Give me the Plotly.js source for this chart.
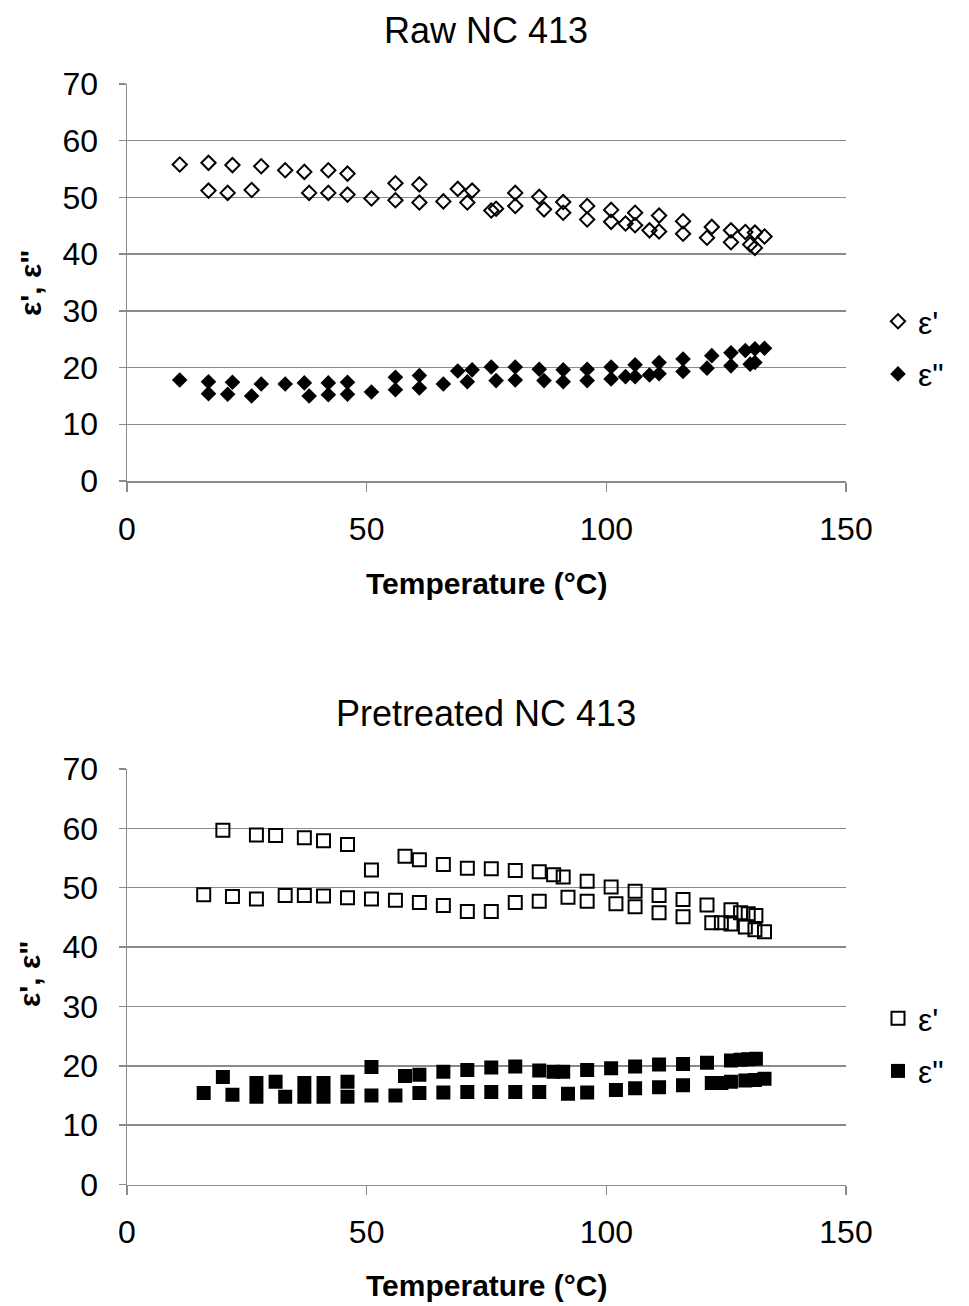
<!DOCTYPE html>
<html>
<head>
<meta charset="utf-8">
<script src="https://cdn.plot.ly/plotly-3.0.1.min.js"></script>
<style>html,body{margin:0;padding:0;background:#fff;}#chart{width:969px;height:1306px;}</style>
</head>
<body>
<div id="chart"></div>
<script>
// ---------- Data: Raw NC 413 ----------
const rawT1 = [11,17,17,22,21,28,26,33,37,38,42,42,46,46,51,56,56,61,61,66,69,72,71,76,77,81,81,86,87,91,91,96,96,101,101,104,106,106,109,111,111,116,116,121,122,126,126,129,130,131,131,133];
const rawEps1 = [55.8,56.1,51.2,55.7,50.8,55.5,51.3,54.8,54.5,50.8,54.8,50.8,54.2,50.5,49.8,52.5,49.5,52.3,49.1,49.3,51.5,51.2,49.1,47.7,48.0,50.8,48.5,50.1,47.9,49.2,47.3,48.5,46.1,47.8,45.7,45.4,47.3,45.1,44.2,46.8,44.0,45.8,43.6,42.9,44.8,44.2,42.1,43.9,41.7,43.8,41.1,43.1];
const rawT2 = [11,17,17,22,21,26,28,33,37,38,42,42,46,46,51,56,56,61,61,66,69,71,72,76,77,81,81,86,87,91,91,96,96,101,101,104,106,106,109,111,111,116,116,121,122,126,126,129,130,131,131,133];
const rawEps2 = [17.8,17.5,15.4,17.4,15.3,15.0,17.1,17.1,17.3,15.0,17.3,15.2,17.4,15.3,15.7,18.3,16.1,18.6,16.4,17.1,19.4,17.5,19.6,20.1,17.7,20.1,17.8,19.7,17.7,19.6,17.5,19.7,17.7,20.1,18.0,18.4,20.5,18.4,18.7,20.9,18.9,21.5,19.3,19.9,22.1,22.6,20.3,23.0,20.6,23.3,20.9,23.4];

// ---------- Data: Pretreated NC 413 ----------
const preT1 = [20,27,31,37,41,46,51,58,61,66,71, 16,22,27,33,37,41,46,51,56,61,66,71, 76,81,86,89,91,96,101,106,111,116,121,126,128,129.6,131.2, 76,81,86,92,96,102,106,111,116,122,124,126,129,131,133];
const preEps1 = [59.7,58.9,58.8,58.4,57.9,57.3,53.0,55.3,54.7,53.9,53.3, 48.8,48.5,48.1,48.7,48.7,48.6,48.3,48.1,47.9,47.5,47.0,46.0, 53.2,52.9,52.7,52.2,51.8,51.1,50.1,49.4,48.7,48.0,47.1,46.3,45.8,45.6,45.3, 46.0,47.5,47.7,48.4,47.7,47.3,46.8,45.8,45.1,44.1,44.1,43.9,43.4,42.9,42.6];
const preT2 = [16,20,22,27,27,31,33,37,37,41,41,46,46,51,51,56,58,61,61,66,66,71,71, 76,76,81,81,86,86,89,91,92,96,96,101,102,106,106,111,111,116,116,121, 126,128,129.6,131.2, 122,124,126,129,131,133];
const preEps2 = [15.4,18.1,15.1,17.1,14.8,17.3,14.8,17.1,14.8,17.1,14.8,17.3,14.8,19.8,15.0,15.0,18.3,18.5,15.4,19.0,15.5,19.3,15.6, 19.7,15.6,19.9,15.6,19.2,15.6,19.0,19.0,15.3,19.3,15.5,19.6,15.9,19.9,16.2,20.2,16.4,20.3,16.7,20.5, 20.9,21.0,21.1,21.2, 17.1,17.1,17.3,17.5,17.6,17.8];

// ---------- Labels ----------
const titles = ["Raw NC 413", "Pretreated NC 413"];
const xTitle = "Temperature (°C)";
const yTitle = "ε', ε\"";
const seriesNames = ["ε'", "ε\""];

const W = 969, H = 1306;
const px = v => v / W;
const py = v => 1 - v / H;
const FONT = "Liberation Sans, Arial, sans-serif";
const GRID = "#8a8a8a";

const traces = [
  {x: rawT1, y: rawEps1, xaxis: 'x', yaxis: 'y', name: seriesNames[0], legend: 'legend', legendgroup: 'a',
   mode: 'markers', type: 'scatter', marker: {symbol: 'diamond-open', size: 11, color: '#000', line: {width: 2, color: '#000'}}},
  {x: rawT2, y: rawEps2, xaxis: 'x', yaxis: 'y', name: seriesNames[1], legend: 'legend', legendgroup: 'b',
   mode: 'markers', type: 'scatter', marker: {symbol: 'diamond', size: 12, color: '#000', line: {width: 0}}},
  {x: preT1, y: preEps1, xaxis: 'x2', yaxis: 'y2', name: seriesNames[0], legend: 'legend2', legendgroup: 'c',
   mode: 'markers', type: 'scatter', marker: {symbol: 'square-open', size: 13, color: '#000', line: {width: 2, color: '#000'}}},
  {x: preT2, y: preEps2, xaxis: 'x2', yaxis: 'y2', name: seriesNames[1], legend: 'legend2', legendgroup: 'd',
   mode: 'markers', type: 'scatter', marker: {symbol: 'square', size: 14, color: '#000', line: {width: 0}}}
];

function xAx(anchor, dom) {
  return {domain: dom, anchor: anchor, range: [0, 150], dtick: 50, tick0: 0,
    showgrid: false, zeroline: false, showline: true, linecolor: GRID, linewidth: 1.5,
    ticks: 'outside', ticklen: 9, tickwidth: 1.5, tickcolor: GRID,
    ticklabelstandoff: 10,
    tickfont: {family: FONT, size: 32, color: '#000'}, fixedrange: true};
}
function yAx(anchor, dom) {
  return {domain: dom, anchor: anchor, range: [0, 70], dtick: 10, tick0: 0,
    showgrid: true, gridcolor: GRID, gridwidth: 1.5, zeroline: false,
    showline: true, linecolor: GRID, linewidth: 1.5,
    ticks: 'outside', ticklen: 7, tickwidth: 1.5, tickcolor: GRID,
    ticklabelstandoff: 14,
    tickfont: {family: FONT, size: 32, color: '#000'}, fixedrange: true};
}

const xd = [px(127), px(846)];
const layout = {
  width: W, height: H,
  margin: {l: 0, r: 0, t: 0, b: 0, autoexpand: false},
  paper_bgcolor: '#fff', plot_bgcolor: '#fff',
  font: {family: FONT, color: '#000'},
  xaxis: xAx('y', xd),
  yaxis: yAx('x', [py(481), py(84)]),
  xaxis2: xAx('y2', xd),
  yaxis2: yAx('x2', [py(1184.5), py(769)]),
  legend: {x: px(878), y: py(294), xanchor: 'left', yanchor: 'top', traceorder: 'grouped', tracegroupgap: 8,
    font: {family: FONT, size: 32, color: '#000'}, bgcolor: 'rgba(0,0,0,0)', itemwidth: 30},
  legend2: {x: px(878), y: py(991), xanchor: 'left', yanchor: 'top', traceorder: 'grouped', tracegroupgap: 8,
    font: {family: FONT, size: 32, color: '#000'}, bgcolor: 'rgba(0,0,0,0)', itemwidth: 30},
  showlegend: true,
  annotations: [
    {text: titles[0], x: px(486), y: py(30), xref: 'paper', yref: 'paper', showarrow: false, xanchor: 'center', yanchor: 'middle',
     font: {family: FONT, size: 36, color: '#000'}},
    {text: titles[1], x: px(486), y: py(713), xref: 'paper', yref: 'paper', showarrow: false, xanchor: 'center', yanchor: 'middle',
     font: {family: FONT, size: 36, color: '#000'}},
    {text: '<b>' + xTitle + '</b>', x: px(486), y: py(583), xref: 'paper', yref: 'paper', showarrow: false, xanchor: 'center', yanchor: 'middle',
     font: {family: FONT, size: 30, color: '#000'}},
    {text: '<b>' + xTitle + '</b>', x: px(486), y: py(1285), xref: 'paper', yref: 'paper', showarrow: false, xanchor: 'center', yanchor: 'middle',
     font: {family: FONT, size: 30, color: '#000'}},
    {text: '<b>' + yTitle + '</b>', x: px(30), y: py(283), xref: 'paper', yref: 'paper', showarrow: false, xanchor: 'center', yanchor: 'middle',
     textangle: -90, font: {family: FONT, size: 30, color: '#000'}},
    {text: '<b>' + yTitle + '</b>', x: px(30), y: py(974), xref: 'paper', yref: 'paper', showarrow: false, xanchor: 'center', yanchor: 'middle',
     textangle: -90, font: {family: FONT, size: 30, color: '#000'}}
  ]
};

Plotly.newPlot('chart', traces, layout, {staticPlot: true, displayModeBar: false});
</script>
</body>
</html>
